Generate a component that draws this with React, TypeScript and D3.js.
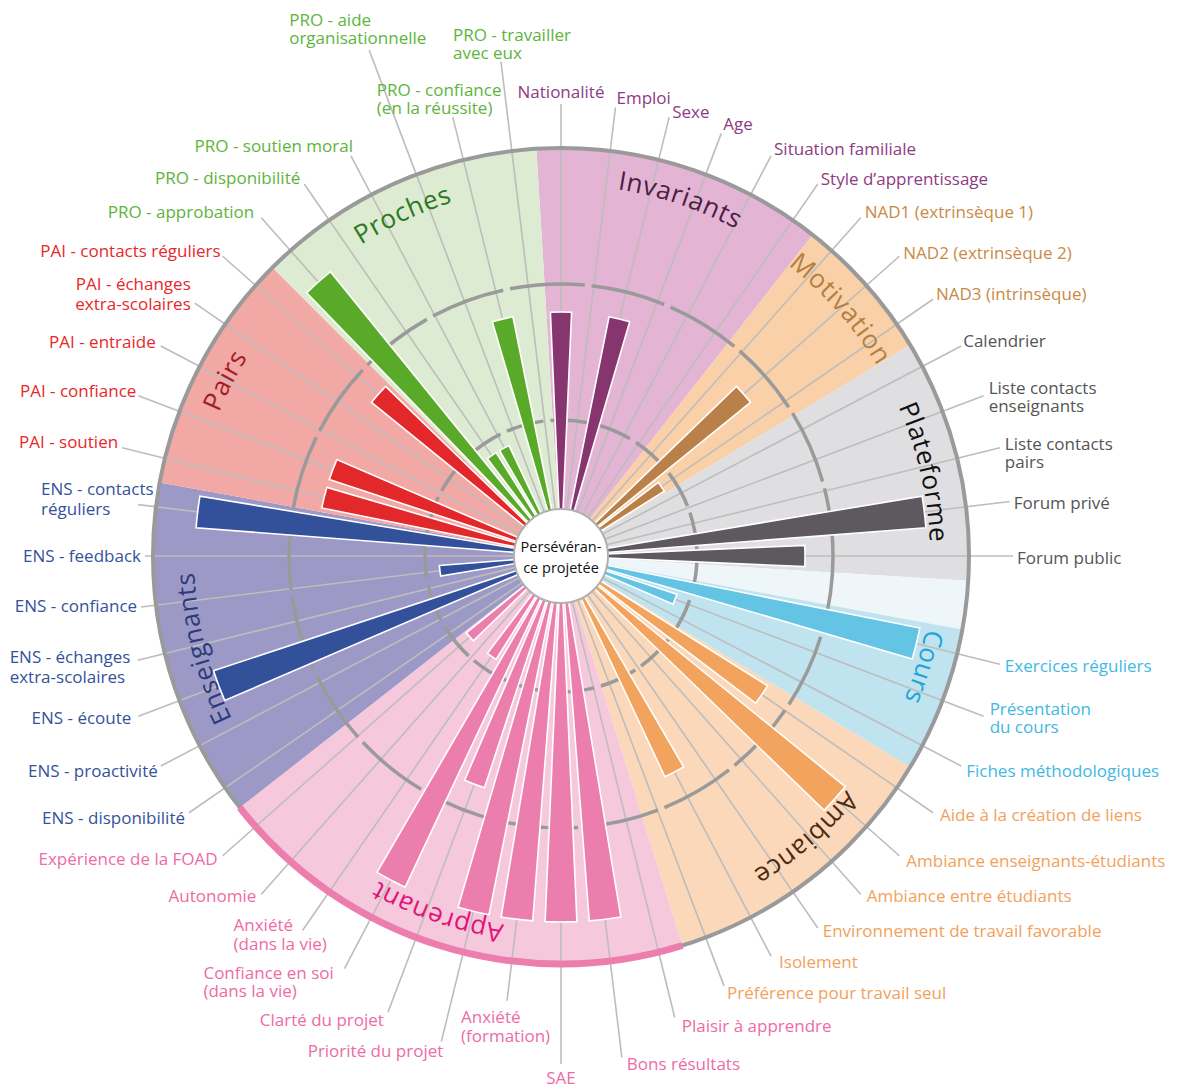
import React from "react";
import * as d3 from "d3";

// ---------------- DATA ----------------
const groupNames = ["Invariants", "Motivation", "Plateforme", "", "Cours", "Ambiance", "Apprenant", "Enseignants", "Pairs", "Proches"];

const invariantsLabels = ["Nationalité", "Emploi", "Sexe", "Age", "Situation familiale", "Style d’apprentissage"];
const invariantsValues = [2, 0, 2, 0, 0, 0];

const motivationLabels = ["NAD1 (extrinsèque 1)", "NAD2 (extrinsèque 2)", "NAD3 (intrinsèque)"];
const motivationValues = [0, 2, 1];

const plateformeLabels = ["Calendrier", "Liste contacts\nenseignants", "Liste contacts\npairs", "Forum privé", "Forum public"];
const plateformeValues = [0, 0, 0, 3, 2];

const emptyLabels = [""];
const emptyValues = [0];

const coursLabels = ["Exercices réguliers", "Présentation\ndu cours", "Fiches méthodologiques"];
const coursValues = [3, 1, 0];

const ambianceLabels = ["Aide à la création de liens", "Ambiance enseignants-étudiants", "Ambiance entre étudiants", "Environnement de travail favorable", "Isolement", "Préférence pour travail seul"];
const ambianceValues = [2, 3, 0, 0, 2, 0];

const apprenantLabels = ["Plaisir à apprendre", "Bons résultats", "SAE", "Anxiété\n(formation)", "Priorité du projet", "Clarté du projet", "Confiance en soi\n(dans la vie)", "Anxiété\n(dans la vie)", "Autonomie", "Expérience de la FOAD"];
const apprenantValues = [0, 3, 3, 3, 3, 2, 3, 1, 0, 1];

const enseignantsLabels = ["ENS - disponibilité", "ENS - proactivité", "ENS - écoute", "ENS - échanges\nextra-scolaires", "ENS - confiance", "ENS - feedback", "ENS - contacts\nréguliers"];
const enseignantsValues = [0, 0, 3, 0, 1, 0, 3];

const pairsLabels = ["PAI - soutien", "PAI - confiance", "PAI - entraide", "PAI - échanges\nextra-scolaires", "PAI - contacts réguliers"];
const pairsValues = [2, 2, 0, 0, 2];

const prochesLabels = ["PRO - approbation", "PRO - disponibilité", "PRO - soutien moral", "PRO - aide\norganisationnelle", "PRO - confiance\n(en la réussite)", "PRO - travailler\navec eux"];
const prochesValues = [3, 1, 1, 0, 2, 0];

const groupLabels = [invariantsLabels, motivationLabels, plateformeLabels, emptyLabels, coursLabels, ambianceLabels, apprenantLabels, enseignantsLabels, pairsLabels, prochesLabels];
const groupValues = [invariantsValues, motivationValues, plateformeValues, emptyValues, coursValues, ambianceValues, apprenantValues, enseignantsValues, pairsValues, prochesValues];

const centerLines = ["Persévéran-", "ce projetée"];

// ---------------- STYLES / LAYOUT ----------------
const groupStyle: Record<string, { bg: string; bar: string; label: string; title: string }> = {
  Invariants: { bg: "#E3B4D4", bar: "#87356F", label: "#8E3B82", title: "#4B1C45" },
  Motivation: { bg: "#F9D0A7", bar: "#B9804A", label: "#C98A45", title: "#B3803F" },
  Plateforme: { bg: "#DFDFE1", bar: "#5E595E", label: "#555555", title: "#111111" },
  "": { bg: "#EEF6FA", bar: "#ffffff", label: "#ffffff", title: "#ffffff" },
  Cours: { bg: "#BFE3EF", bar: "#63C4E4", label: "#41B9E3", title: "#1DA5DA" },
  Ambiance: { bg: "#FBD8B9", bar: "#F2A35D", label: "#F2A15C", title: "#4D2A12" },
  Apprenant: { bg: "#F6C8DC", bar: "#EC7EAD", label: "#EE6BA5", title: "#E2127A" },
  Enseignants: { bg: "#9D99C7", bar: "#33509B", label: "#34529B", title: "#2C3B7A" },
  Pairs: { bg: "#F2A8A4", bar: "#E2282A", label: "#E8272B", title: "#A01D25" },
  Proches: { bg: "#DDEBD3", bar: "#5AAA2A", label: "#5EB43C", title: "#2B7A1E" },
};

const titleLayout: Record<string, [number, number]> = {
  Invariants: [18.5, 371],
  Motivation: [48.5, 369],
  Plateforme: [77, 369],
  Cours: [107, 372],
  Ambiance: [139, 369],
  Apprenant: [199, 373],
  Enseignants: [255.5, 367],
  Pairs: [297.5, 371],
  Proches: [335, 370],
};

// per slot: [leader radius, anchor, dx, dy (first line centre), line height]
type LL = [number, "start" | "end" | "middle", number, number, number] | null;
const labelLayout: LL[] = [
  [452, "middle", 0, -13, 18],
  [452, "start", 1, -10, 18],
  [452, "start", 3, -6, 18],
  [452, "start", 2, -10, 18],
  [452, "start", 3, -8, 18],
  [452, "start", 3, -6, 18],
  [452, "start", 4, -7, 18],
  [452, "start", 4, -4, 18],
  [452, "start", 3, -6, 18],
  [452, "start", 2, -6, 18],
  [452, "start", 5, -9, 18],
  [452, "start", 5, -5, 18],
  [452, "start", 4, 0, 18],
  [452, "start", 4, 1, 18],
  null,
  [452, "start", 5, 1, 18],
  [452, "start", 6, -8, 18],
  [452, "start", 5, 4, 18],
  [452, "start", 7, 1, 18],
  [452, "start", 7, 4, 18],
  [452, "start", 6, 1, 18],
  [452, "start", 5, 2, 18],
  [452, "start", 8, 5, 18],
  [460, "start", 3, 6, 18],
  [475, "start", 7, 8, 18],
  [505, "start", 5, 6, 18],
  [508, "middle", 0, 13, 18],
  [448, "start", -46, 15, 19],
  [500, "end", 2, 9, 18],
  [488, "end", -4, 7, 18],
  [466, "start", -141, 3, 18],
  [455, "start", -69, -6, 19],
  [452, "end", -5, 1, 18],
  [452, "end", -5, 2, 18],
  [452, "end", -4, 4, 18],
  [452, "end", -3, 4, 18],
  [452, "end", -7, 1, 18],
  [436, "start", -128, -4, 20],
  [423, "end", -4, -2, 18],
  [416, "end", -4, -1, 18],
  [426, "start", -97, -17, 20],
  [452, "end", -4, -7, 18],
  [452, "end", -2, -6, 18],
  [452, "end", -5, -5, 18],
  [445, "end", -4, -20, 20],
  [452, "end", -2, -6, 18],
  [452, "end", -7, -7, 18],
  [452, "end", -4, -7, 18],
  [452, "end", 2, -11, 18],
  [541, "start", -80, -31, 18],
  [452, "start", -76, -28, 18],
  [498, "start", -48, -28, 18],
];

const W = 1179;
const H = 1089;
const CX = 561;
const CY = 556;
const R_HOLE = 47;
const R_OUT = 408;
const FONT = "'Open Sans', 'DejaVu Sans', sans-serif";

type Slot = { label: string; value: number; group: string; index: number };

export default function App() {
  const slots: Slot[] = [];
  groupNames.forEach((g, gi) => {
    groupLabels[gi].forEach((label, k) => {
      slots.push({ label, value: groupValues[gi][k], group: g, index: slots.length });
    });
  });
  const N = slots.length;
  const step = (2 * Math.PI) / N;

  const angle = d3
    .scaleBand<number>()
    .domain(d3.range(N))
    .range([-step / 2, 2 * Math.PI - step / 2])
    .paddingInner(0.28)
    .paddingOuter(0.14);
  const mid = (i: number) => (angle(i) as number) + angle.bandwidth() / 2;

  const rBar = d3.scaleLinear().domain([0, 3]).range([0, 366]);
  const rGrid = d3.scaleLinear().domain([0, 3]).range([0, R_OUT]);

  const polar = (a: number, r: number): [number, number] => [CX + r * Math.sin(a), CY - r * Math.cos(a)];
  const arc = d3.arc<any>();

  const groups = groupNames.map((g) => {
    const idx = slots.filter((s) => s.group === g).map((s) => s.index);
    return { name: g, start: mid(idx[0]) - step / 2, end: mid(idx[idx.length - 1]) + step / 2 };
  });

  const circlePath = (r: number) =>
    `M ${CX},${CY - r} A ${r},${r} 0 1,1 ${CX},${CY + r} A ${r},${r} 0 1,1 ${CX},${CY - r}`;

  const apprenant = groups.find((g) => g.name === "Apprenant")!;
  const titleRadii = Array.from(new Set(Object.values(titleLayout).map((t) => t[1])));

  return (
    <svg
      width={W}
      height={H}
      viewBox={`0 0 ${W} ${H}`}
      style={{ position: "absolute", left: 0, top: 0, background: "#ffffff" }}
      fontFamily={FONT}
    >
      <defs>
        {titleRadii.map((r) => (
          <path key={r} id={`titlePath${r}`} d={circlePath(r)} fill="none" />
        ))}
      </defs>

      <g transform={`translate(${CX},${CY})`}>
        {groups.map((g) => (
          <path
            key={"bg" + g.name}
            d={arc({ innerRadius: R_HOLE, outerRadius: R_OUT, startAngle: g.start, endAngle: g.end }) || ""}
            fill={groupStyle[g.name].bg}
          />
        ))}
      </g>

      {slots.map((s) => {
        const L = labelLayout[s.index];
        if (!L || !s.label) return null;
        const a = mid(s.index);
        const [x1, y1] = polar(a, R_HOLE);
        const [x2, y2] = polar(a, L[0]);
        return <line key={"ln" + s.index} x1={x1} y1={y1} x2={x2} y2={y2} stroke="#BDBDBD" strokeWidth={1.6} />;
      })}

      {[1, 2].map((v) => (
        <circle
          key={"grid" + v}
          cx={CX}
          cy={CY}
          r={rGrid(v)}
          fill="none"
          stroke="#9A9A9A"
          strokeWidth={3.5}
          strokeDasharray={v === 1 ? "38 7" : "75 7"}
        />
      ))}

      <g transform={`translate(${CX},${CY})`}>
        {slots
          .filter((s) => s.value > 0)
          .map((s) => {
            const a0 = angle(s.index) as number;
            return (
              <path
                key={"bar" + s.index}
                d={arc({ innerRadius: 0, outerRadius: rBar(s.value), startAngle: a0, endAngle: a0 + angle.bandwidth() }) || ""}
                fill={groupStyle[s.group].bar}
                stroke="#ffffff"
                strokeWidth={1.6}
              />
            );
          })}
      </g>

      <circle cx={CX} cy={CY} r={R_OUT} fill="none" stroke="#9A9A9A" strokeWidth={4} />
      <g transform={`translate(${CX},${CY})`}>
        <path
          d={arc({ innerRadius: R_OUT - 3.5, outerRadius: R_OUT + 3.5, startAngle: apprenant.start, endAngle: apprenant.end }) || ""}
          fill={groupStyle.Apprenant.bar}
        />
      </g>

      {groupNames
        .filter((g) => g && titleLayout[g])
        .map((g) => {
          const [deg, r] = titleLayout[g];
          const offset = ((deg * Math.PI) / 180) * r;
          return (
            <text key={"t" + g} fontSize={26} fill={groupStyle[g].title} letterSpacing={0.6}>
              <textPath href={`#titlePath${r}`} startOffset={offset} textAnchor="middle">
                {g}
              </textPath>
            </text>
          );
        })}

      <circle cx={CX} cy={CY} r={R_HOLE} fill="#ffffff" stroke="#B0B0B0" strokeWidth={2} />
      <text textAnchor="middle" dominantBaseline="central" fontSize={14.5} fill="#111">
        {centerLines.map((t, k) => (
          <tspan key={"c" + k} x={CX} y={CY - 10 + k * 21}>
            {t}
          </tspan>
        ))}
      </text>

      {slots.map((s) => {
        const L = labelLayout[s.index];
        if (!L || !s.label) return null;
        const [R, anchor, dx, dy, lh] = L;
        const [x, y] = polar(mid(s.index), R);
        return (
          <text
            key={"lb" + s.index}
            textAnchor={anchor}
            dominantBaseline="central"
            fontSize={17}
            fill={groupStyle[s.group].label}
          >
            {s.label.split("\n").map((line, k) => (
              <tspan key={k} x={x + dx} y={y + dy + k * lh}>
                {line}
              </tspan>
            ))}
          </text>
        );
      })}
    </svg>
  );
}
